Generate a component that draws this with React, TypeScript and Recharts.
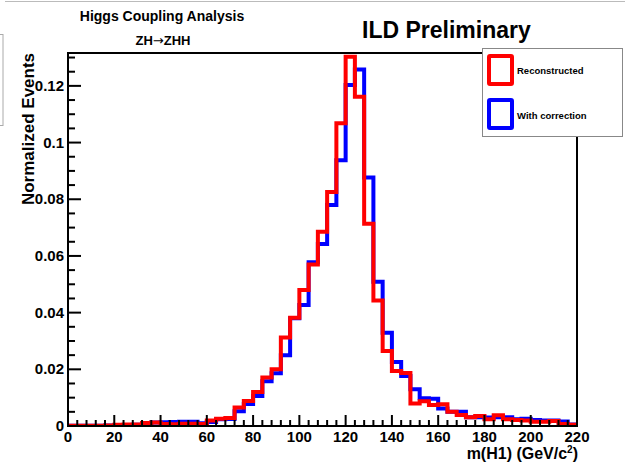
import React from 'react';
import { ComposedChart, Line, XAxis, YAxis, ReferenceArea } from 'recharts';

// Bin lower edges (GeV), 4 GeV wide bins from 0 to 220
const binEdges = [
  0, 4, 8, 12, 16, 20, 24, 28, 32, 36, 40, 44, 48, 52, 56, 60, 64, 68, 72, 76,
  80, 84, 88, 92, 96, 100, 104, 108, 112, 116, 120, 124, 128, 132, 136, 140, 144, 148, 152, 156,
  160, 164, 168, 172, 176, 180, 184, 188, 192, 196, 200, 204, 208, 212, 216,
];
const histEnd = 220;

const reconstructed = [
  0.0001, 0.0001, 0.0001, 0.0001, 0.0002, 0.0004, 0.0005, 0.0005, 0.0011, 0.0012,
  0.0007, 0.0006, 0.0008, 0.0008, 0.0007, 0.0019, 0.0026, 0.0028, 0.0065, 0.0088,
  0.012, 0.0171, 0.02, 0.0312, 0.0382, 0.048, 0.057, 0.0685, 0.0826, 0.1068,
  0.1303, 0.1162, 0.0714, 0.0443, 0.0265, 0.0194, 0.0187, 0.0079, 0.0087, 0.0074,
  0.0077, 0.005, 0.0039, 0.0031, 0.0035, 0.0024, 0.0038, 0.0024, 0.0021, 0.0019,
  0.0015, 0.0015, 0.0018, 0.0007, 0.0004,
];

const withCorrection = [
  0.0001, 0.0001, 0.0001, 0.0001, 0.0002, 0.0002, 0.0003, 0.0004, 0.0008, 0.0012,
  0.0013, 0.0014, 0.0015, 0.0015, 0.001, 0.0014, 0.0024, 0.0025, 0.0052, 0.0078,
  0.0106, 0.0158, 0.0186, 0.025, 0.038, 0.0427, 0.0578, 0.0642, 0.078, 0.0938,
  0.1203, 0.1258, 0.0877, 0.0509, 0.0329, 0.0226, 0.0176, 0.013, 0.0098, 0.0096,
  0.0062, 0.005, 0.005, 0.0031, 0.0031, 0.003, 0.0031, 0.0031, 0.0024, 0.0026,
  0.0021, 0.0019, 0.0019, 0.0016, 0.0005,
];

const xMajorTicks = [0, 20, 40, 60, 80, 100, 120, 140, 160, 180, 200, 220];
const xTickLabels = ['0', '20', '40', '60', '80', '100', '120', '140', '160', '180', '200', '220'];
const yMajorTicks = [0, 0.02, 0.04, 0.06, 0.08, 0.1, 0.12];
const yTickLabels = ['0', '0.02', '0.04', '0.06', '0.08', '0.1', '0.12'];
const xMinorStep = 4;
const yMinorStep = 0.005;
const yMax = 0.1316;

const xTicks: number[] = [];
for (let i = 0; i * xMinorStep <= histEnd; i++) xTicks.push(i * xMinorStep);
const yTicks: number[] = [];
for (let i = 0; i * yMinorStep <= yMax + 1e-9; i++) yTicks.push(+(i * yMinorStep).toFixed(4));

const data = binEdges.map((x, i) => ({ x, rec: reconstructed[i], cor: withCorrection[i] }));
data.push({
  x: histEnd,
  rec: reconstructed[reconstructed.length - 1],
  cor: withCorrection[withCorrection.length - 1],
});

const FONT = '"Liberation Sans", Arial, Helvetica, sans-serif';

const YTick = (props: any) => {
  const { x, y, payload } = props;
  const v = payload.value;
  const idx = yMajorTicks.findIndex((t) => Math.abs(t - v) < 1e-9);
  const major = idx >= 0;
  return (
    <g>
      <line x1={x} x2={x + (major ? 13 : 7)} y1={y} y2={y} stroke="#000" strokeWidth={2} />
      {major && (
        <text x={x - 4} y={y} dy={5} textAnchor="end" fontFamily={FONT} fontWeight="bold" fontSize={15} fill="#000">
          {yTickLabels[idx]}
        </text>
      )}
    </g>
  );
};

const XTick = (props: any) => {
  const { x, y, payload } = props;
  const v = payload.value;
  const idx = xMajorTicks.findIndex((t) => Math.abs(t - v) < 1e-9);
  const major = idx >= 0;
  return (
    <g>
      <line x1={x} x2={x} y1={y} y2={y - (major ? 11 : 6)} stroke="#000" strokeWidth={2} />
      {major && (
        <text x={x} y={y + 16} textAnchor="middle" fontFamily={FONT} fontWeight="bold" fontSize={15} fill="#000">
          {xTickLabels[idx]}
        </text>
      )}
    </g>
  );
};

export default function App() {
  return (
    <div style={{ position: 'absolute', left: 0, top: 0, width: 625, height: 462, background: '#fff', overflow: 'hidden' }}>
      <ComposedChart
        width={625}
        height={462}
        data={data}
        margin={{ top: 53, right: 48, bottom: 0, left: 0 }}
      >
        <XAxis
          dataKey="x"
          type="number"
          domain={[0, histEnd]}
          ticks={xTicks}
          interval={0}
          height={36}
          tickLine={false}
          tickSize={0}
          tickMargin={0}
          axisLine={{ stroke: '#000', strokeWidth: 2 }}
          tick={<XTick />}
          allowDataOverflow
        />
        <YAxis
          type="number"
          domain={[0, yMax]}
          ticks={yTicks}
          interval={0}
          width={68}
          tickLine={false}
          tickSize={0}
          tickMargin={0}
          axisLine={{ stroke: '#000', strokeWidth: 2 }}
          tick={<YTick />}
          allowDataOverflow
        />
        <ReferenceArea x1={0} x2={histEnd} y1={0} y2={yMax} fill="none" stroke="#000" strokeWidth={2} ifOverflow="visible" />
        <Line type="stepAfter" dataKey="cor" stroke="#0000ff" strokeWidth={4} dot={false} isAnimationActive={false} />
        <Line type="stepAfter" dataKey="rec" stroke="#ff0000" strokeWidth={4} dot={false} isAnimationActive={false} />
      </ComposedChart>

      <svg width={625} height={462} style={{ position: 'absolute', left: 0, top: 0, pointerEvents: 'none' }}>
        <line x1={5} x2={625} y1={1.5} y2={1.5} stroke="#bbb" strokeWidth={1} />
        <rect x={-10} y={34.5} width={13} height={91} fill="none" stroke="#aaa" strokeWidth={1} />
        <text x={162} y={21} textAnchor="middle" fontFamily={FONT} fontWeight="bold" fontSize={14} fill="#000">
          Higgs Coupling Analysis
        </text>
        <text x={163} y={45} textAnchor="middle" fontFamily={FONT} fontWeight="bold" fontSize={13} fill="#000">
          ZH<tspan fontFamily='"DejaVu Sans", sans-serif' fontWeight="normal">→</tspan>ZHH
        </text>
        <text x={362} y={38} fontFamily={FONT} fontWeight="bold" fontSize={23} fill="#000">
          ILD Preliminary
        </text>
        <text
          x={0}
          y={0}
          transform="translate(34,129) rotate(-90)"
          textAnchor="middle"
          fontFamily={FONT}
          fontWeight="bold"
          fontSize={17}
          fill="#000"
        >
          Normalized Events
        </text>
        <text x={578} y={459} textAnchor="end" fontFamily={FONT} fontWeight="bold" fontSize={16} fill="#000">
          m(H1) (GeV/c<tspan fontSize={10} dy={-6}>2</tspan>
          <tspan dy={6}>)</tspan>
        </text>
      </svg>

      <div
        style={{
          position: 'absolute',
          left: 482,
          top: 48,
          width: 141,
          height: 89,
          boxSizing: 'border-box',
          border: '1px solid #888',
          background: '#fff',
          fontFamily: FONT,
          fontWeight: 'bold',
          fontSize: 9.5,
          color: '#000',
        }}
      >
        <div style={{ position: 'absolute', left: 4, top: 5, width: 27, height: 32, boxSizing: 'border-box', border: '4px solid #ff0000', borderRadius: 3 }} />
        <div style={{ position: 'absolute', left: 34, top: 16, whiteSpace: 'nowrap' }}>Reconstructed</div>
        <div style={{ position: 'absolute', left: 4, top: 49, width: 27, height: 32, boxSizing: 'border-box', border: '4px solid #0000ff', borderRadius: 3 }} />
        <div style={{ position: 'absolute', left: 34, top: 61, whiteSpace: 'nowrap' }}>With correction</div>
      </div>
    </div>
  );
}
